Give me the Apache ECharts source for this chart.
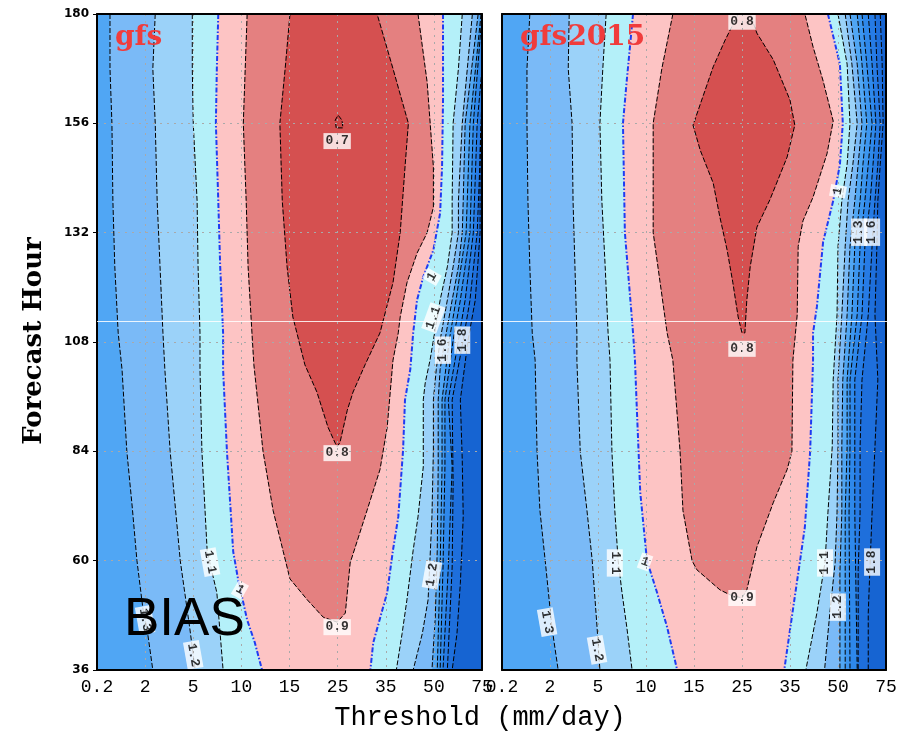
<!DOCTYPE html>
<html><head><meta charset="utf-8">
<script src="https://cdn.jsdelivr.net/npm/echarts@6/dist/echarts.min.js"></script>
<style>html,body{margin:0;padding:0;background:#fff}#chart{width:906px;height:734px}</style>
</head><body><div id="chart"></div>
<script>
// ---- axes ----
const thresholds = ['0.2','2','5','10','15','25','35','50','75'];
const hourTicks = [36,60,84,108,132,156,180];
const levels = [0.7,0.8,0.9,1.0,1.1,1.2,1.3,1.4,1.5,1.6,1.7,1.8];
// fill colour of the band just below each level, and above the top level
const bandBelow = {1.8:'#1e6fdc',1.7:'#267be5',1.6:'#2e88eb',1.5:'#3c96f0',1.4:'#50a6f4',1.3:'#7abaf7',1.2:'#9bd2f9',1.1:'#b4f0f9',1.0:'#fdc4c4',0.9:'#e48080',0.8:'#d55050',0.7:'#cc4646'};
const bandTop = '#1664d2';

// ---- contour lines, points are [threshold index, forecast hour] ----
// panel "gfs"
const gfsL13 = [[0.27,180],[0.27,168],[0.31,156],[0.33,139],[0.37,124.5],[0.44,110],[0.52,102],[0.62,84],[0.73,72],[0.83,60],[0.96,49],[1.04,45],[1.16,36]];
const gfsL12 = [[1.21,180],[1.16,168],[1.21,156],[1.25,139],[1.31,124.5],[1.37,110],[1.41,102],[1.52,84],[1.73,60],[1.93,45],[2.04,36]];
const gfsL11 = [[1.98,180],[1.98,168],[2.0,156],[2.08,139],[2.10,124.5],[2.14,110],[2.14,102],[2.18,84],[2.29,62],[2.49,53],[2.62,36]];
const gfsL10 = [[2.52,180],[2.49,168],[2.47,156],[2.52,139],[2.56,124.5],[2.62,110],[2.62,102],[2.70,84],[2.83,62],[2.93,56],[3.12,47],[3.28,42],[3.43,36]];
const gfsU09 = [[3.12,180],[3.08,168],[3.04,156],[3.10,139],[3.14,124.5],[3.22,110],[3.26,103],[3.45,84],[3.66,71],[3.87,62],[4.01,56],[4.37,51.4],[4.70,47.6],[4.99,46.5],[5.16,48.5],[5.26,59.5],[5.61,71],[5.88,80],[6.03,89.3],[6.15,104],[6.26,110],[6.30,113.5],[6.44,121],[6.65,127.5],[6.86,132],[6.99,137.6],[6.99,146.4],[6.86,165],[6.67,180]];
const gfsU08 = [[4.01,180],[3.91,168],[3.80,156],[3.85,139],[3.95,124.5],[4.07,113.5],[4.32,103],[4.57,97],[4.80,89.3],[4.95,85.8],[4.99,85],[5.05,86],[5.20,93],[5.32,97],[5.57,103],[5.88,110],[6.15,121],[6.30,132],[6.40,146.4],[6.47,156],[6.15,168],[5.82,180]];
const gfsC07 = [[4.97,155],[4.95,156.7],[5.01,157.8],[5.09,156.7],[5.11,155],[4.97,155]];
const gfsR10 = [[7.19,180],[7.19,161],[7.17,146.4],[7.13,136.3],[6.99,128.2],[6.78,122.3],[6.65,117.2],[6.57,110],[6.51,102],[6.40,95.3],[6.36,84.3],[6.26,69.6],[6.15,62.3],[6.03,53],[5.74,42],[5.68,36]];
const gfsR11 = [[7.59,180],[7.51,168],[7.40,156],[7.38,139],[7.38,132],[7.28,124.5],[7.13,117.2],[6.99,108.4],[6.92,104],[6.82,99],[6.78,95.3],[6.78,80.6],[6.67,69.6],[6.57,62.3],[6.44,51.4],[6.34,44],[6.22,36]];
const gfsR12 = [[7.80,180],[7.59,156],[7.51,139],[7.51,132],[7.40,124.5],[7.28,117.2],[7.13,108.4],[7.05,102],[6.99,95.3],[6.99,84.3],[6.96,69.6],[6.88,51.4],[6.76,44],[6.57,36]];
const gfsR13 = [[7.92,180],[7.65,156],[7.61,139],[7.59,132],[7.51,124.5],[7.38,117.2],[7.23,108.4],[7.13,102],[7.09,95.3],[7.09,80.6],[7.07,62.3],[7.03,47.6],[6.96,36]];
const gfsR14 = [[7.98,180],[7.75,156],[7.67,132],[7.46,117.2],[7.32,108.4],[7.17,95.3],[7.17,80.6],[7.13,58.6],[7.07,36]];
const gfsR15 = [[8,180],[7.82,156],[7.75,132],[7.55,117.2],[7.40,108.4],[7.23,95.3],[7.23,80.6],[7.19,58.6],[7.13,36]];
const gfsR16 = [[8,180],[8,168],[7.90,156],[7.82,132],[7.65,117.2],[7.51,108.4],[7.30,95.3],[7.38,80.6],[7.30,58.6],[7.19,36]];
const gfsR17 = [[8,180],[8,159],[7.96,148],[7.90,132],[7.75,117.2],[7.61,108.4],[7.38,95.3],[7.40,77],[7.38,58.6],[7.28,36]];
const gfsR18 = [[8,180],[8,162],[7.96,150],[7.96,132],[7.86,117.2],[7.71,108.4],[7.55,95.3],[7.59,82],[7.61,69.6],[7.55,55],[7.48,44],[7.38,36]];
const gfsLabels = [[4.99,152.1,'0.7',0],[4.99,83.6,'0.8',0],[4.99,45.4,'0.9',0],[6.96,122.3,'1',60],[6.99,113.3,'1.1',70],[7.19,106.2,'1.6',90],[7.59,108.4,'1.8',90],[2.35,59.7,'1.1',-80],[2.97,53.6,'1',-30],[1.0,47,'1.3',-80],[2.0,39.3,'1.2',-80],[6.96,56.9,'1.2',80]];

// panel "gfs2015"
const g15L13 = [[0.58,180],[0.52,168],[0.52,156],[0.54,139],[0.58,124.5],[0.63,110],[0.69,104],[0.73,84],[0.79,71],[0.90,60],[1.04,45.4],[1.17,36]];
const g15L12 = [[1.40,180],[1.38,168],[1.46,156],[1.48,139],[1.52,124.5],[1.56,110],[1.56,104],[1.63,84],[1.77,71],[1.88,60],[1.98,45.4],[2.04,36]];
const g15L11 = [[2.17,180],[2.10,168],[2.04,156],[2.08,139],[2.15,124.5],[2.21,110],[2.25,104],[2.29,84],[2.35,71],[2.42,60],[2.50,53],[2.60,45.4],[2.71,36]];
const g15L10 = [[2.73,180],[2.60,165.5],[2.52,156],[2.56,132],[2.73,110],[2.77,104],[2.81,93],[2.88,75],[3.02,60],[3.23,53],[3.44,45.4],[3.65,36]];
const g15U09 = [[3.56,180],[3.33,168],[3.15,156],[3.15,132],[3.44,110],[3.56,104],[3.71,84],[3.77,71],[3.96,60],[4.06,58],[4.54,53.6],[4.75,52.5],[5.0,51.8],[5.10,53.6],[5.31,63],[5.65,72.7],[5.94,80],[6.04,84],[6.06,104],[6.15,114],[6.17,129],[6.27,134.6],[6.48,139.8],[6.77,149.3],[6.90,156.5],[6.69,165.3],[6.48,172.8],[6.31,180]];
const g15U08 = [[4.92,180],[4.65,174.3],[4.40,168.4],[3.98,155.6],[4.13,150.1],[4.40,142.9],[4.54,135.4],[4.69,128.2],[4.81,121],[4.92,113.5],[5.0,110],[5.06,110],[5.10,117.2],[5.17,124.5],[5.31,133.2],[5.58,139.2],[5.94,148.6],[6.10,155.6],[6.0,161.1],[5.65,170],[5.31,175.8],[5.17,180]];
const g15R10 = [[6.79,180],[7.04,169],[7.10,156],[7.04,147],[6.90,139],[6.69,130],[6.56,115.7],[6.48,110],[6.48,104],[6.42,84],[6.31,67.4],[6.21,60],[6.06,49.2],[5.88,36]];
const g15R11 = [[7.0,180],[7.19,169],[7.25,156],[7.19,147],[7.08,139],[7.0,129],[6.98,114],[6.90,99.7],[6.88,85],[6.79,70.5],[6.73,59.7],[6.56,48.5],[6.33,36]];
const g15R12 = [[7.15,180],[7.29,169],[7.40,156],[7.31,147],[7.21,139],[7.15,129],[7.08,114],[7.0,99.7],[7.0,85],[6.98,70.5],[6.94,59.5],[6.83,48.5],[6.72,36]];
const g15R13 = [[7.25,180],[7.40,169],[7.50,156],[7.42,147],[7.35,139],[7.25,129],[7.19,114],[7.10,99.7],[7.08,85],[7.08,70.5],[7.04,57.5],[7.04,36]];
const g15R14 = [[7.40,180],[7.50,169],[7.60,156],[7.52,147],[7.46,139],[7.35,129],[7.29,114],[7.19,99.7],[7.19,85],[7.15,70.5],[7.15,36]];
const g15R15 = [[7.50,180],[7.60,169],[7.71,156],[7.63,147],[7.56,139],[7.46,129],[7.40,114],[7.25,99.7],[7.25,85],[7.23,70.5],[7.25,36]];
const g15R16 = [[7.63,180],[7.71,169],[7.79,156],[7.73,147],[7.67,139],[7.56,129],[7.50,114],[7.35,99.7],[7.35,85],[7.35,70.5],[7.40,36]];
const g15R17 = [[7.77,180],[7.81,169],[7.88,156],[7.83,147],[7.77,139],[7.71,129],[7.63,114],[7.50,99.7],[7.46,85],[7.46,70.5],[7.42,58],[7.42,36]];
const g15R18 = [[7.88,180],[7.92,169],[7.94,156],[7.88,147],[7.83,139],[7.81,129],[7.77,114],[7.83,99.7],[7.77,85],[7.71,70.5],[7.67,59.7],[7.63,48.5],[7.63,36]];
const g15Labels = [[5.0,178.3,'0.8',0],[5.0,106.5,'0.8',0],[5.0,51.8,'0.9',0],[7.0,141.1,'1',80],[7.44,132.1,'1.3',90],[7.71,132.1,'1.6',90],[2.35,59.5,'1.1',-90],[2.98,59.7,'1',-20],[6.73,59.5,'1.1',90],[7.0,49.8,'1.2',90],[7.71,59.7,'1.8',90],[0.94,46.5,'1.3',-80],[1.98,40.4,'1.2',-80]];

// ---- build ----
const H0 = 36, HSTEP = 24;
const toAxis = pts => pts.map(p => [p[0], (p[1] - H0) / HSTEP]);

const panels = [
  {title:'gfs', left:{1.3:gfsL13,1.2:gfsL12,1.1:gfsL11,1.0:gfsL10},
   right:{1.0:gfsR10,1.1:gfsR11,1.2:gfsR12,1.3:gfsR13,1.4:gfsR14,1.5:gfsR15,1.6:gfsR16,1.7:gfsR17,1.8:gfsR18},
   closed:{0.9:gfsU09,0.8:gfsU08,0.7:gfsC07}, labels:gfsLabels, gridLeft:97, gridWidth:385},
  {title:'gfs2015', left:{1.3:g15L13,1.2:g15L12,1.1:g15L11,1.0:g15L10},
   right:{1.0:g15R10,1.1:g15R11,1.2:g15R12,1.3:g15R13,1.4:g15R14,1.5:g15R15,1.6:g15R16,1.7:g15R17,1.8:g15R18},
   closed:{0.9:g15U09,0.8:g15U08}, labels:g15Labels, gridLeft:502, gridWidth:384}
];

const grids = [], xAxes = [], yAxes = [], series = [];
const dotted = {show:true, lineStyle:{color:'#a9a9a9', type:[2,5], width:1}};
const frame = {show:true, onZero:false, lineStyle:{color:'#000', width:2}};

panels.forEach((pn, gi) => {
  grids.push({left:pn.gridLeft, top:14, width:pn.gridWidth, height:656, show:true, backgroundColor:bandTop, borderWidth:0});
  xAxes.push({gridIndex:gi, type:'value', min:0, max:8, interval:1, position:'bottom', z:5,
    axisLine:frame, axisTick:{show:false},
    axisLabel:{formatter:v => thresholds[Math.round(v)], color:'#000', fontFamily:'Liberation Mono', fontSize:18, margin:8},
    splitLine:dotted});
  xAxes.push({gridIndex:gi, type:'value', min:0, max:8, interval:1, position:'top', z:5,
    axisLine:frame, axisTick:{show:false}, axisLabel:{show:false}, splitLine:{show:false}});
  yAxes.push({gridIndex:gi, type:'value', min:0, max:6, interval:1, position:'left', z:5,
    axisLine:frame, axisTick:{show:gi === 0, length:4, lineStyle:{color:'#000'}},
    axisLabel:{show:gi === 0, formatter:v => hourTicks[Math.round(v)], color:'#000', fontFamily:'DejaVu Sans', fontWeight:'bold', fontSize:12, margin:8},
    splitLine:dotted});
  yAxes.push({gridIndex:gi, type:'value', min:0, max:6, interval:1, position:'right', z:5,
    axisLine:frame, axisTick:{show:false}, axisLabel:{show:false}, splitLine:{show:false}});

  const xi = gi * 2, yi = gi * 2;
  // filled regions, painted from the highest level down
  const desc = levels.slice().reverse();
  desc.forEach((L, k) => {
    let poly = null;
    if (pn.closed[L]) poly = pn.closed[L];
    else if (pn.right[L]) {
      const lft = pn.left[L] ? pn.left[L] : [[0,180],[0,36]];
      poly = lft.concat(pn.right[L].slice().reverse());
    }
    if (!poly) return;
    const pts = toAxis(poly), col = bandBelow[L];
    series.push({type:'custom', xAxisIndex:xi, yAxisIndex:yi, clip:true, silent:true, z:1, data:[0],
      renderItem:(params, api) => ({type:'polygon', z2:k,
        shape:{points:pts.map(p => api.coord(p))}, style:{fill:col, stroke:col, lineWidth:0.6}})});
  });
  // contour lines
  const addLine = (pts, L) => {
    const blue = Math.abs(L - 1.0) < 1e-9;
    series.push({type:'line', xAxisIndex:xi, yAxisIndex:yi, data:toAxis(pts), showSymbol:false, symbol:'none',
      clip:true, silent:true, z:3,
      lineStyle: blue ? {color:'#1e3cf2', width:2, type:[5,2,1.5,2]} : {color:'#000', width:1, type:[5,2]}});
  };
  Object.keys(pn.left).forEach(L => addLine(pn.left[L], +L));
  Object.keys(pn.right).forEach(L => addLine(pn.right[L], +L));
  Object.keys(pn.closed).forEach(L => addLine(pn.closed[L], +L));
  // contour labels
  series.push({type:'scatter', xAxisIndex:xi, yAxisIndex:yi, symbolSize:1, itemStyle:{color:'rgba(0,0,0,0)'}, z:4, silent:true,
    data:pn.labels.map(l => ({value:[l[0], (l[1] - H0) / HSTEP], name:l[2], label:{rotate:l[3]}})),
    label:{show:true, position:'inside', formatter:'{b}', backgroundColor:'#fff', padding:[2,2,1,2],
      color:'#000', fontSize:13, fontFamily:'Liberation Mono', fontWeight:'bold'}});
});

const chart = echarts.init(document.getElementById('chart'), null, {renderer:'canvas'});
chart.setOption({
  animation:false,
  backgroundColor:'#fff',
  grid:grids, xAxis:xAxes, yAxis:yAxes, series:series,
  graphic:[
    {type:'text', left:115, top:24, z:50, style:{text:panels[0].title, font:'bold 28px "DejaVu Serif"', fill:'#f03c3c'}},
    {type:'text', left:520, top:24, z:50, style:{text:panels[1].title, font:'bold 28px "DejaVu Serif"', fill:'#f03c3c'}},
    {type:'text', x:34, y:341, rotation:Math.PI/2, z:50, style:{text:'Forecast Hour', font:'bold 26px "DejaVu Serif"', fill:'#000', textAlign:'center', textVerticalAlign:'middle'}},
    {type:'text', x:480, y:718, z:50, style:{text:'Threshold (mm/day)', font:'27px "Liberation Mono"', fill:'#000', textAlign:'center', textVerticalAlign:'middle'}},
    {type:'text', x:124, y:620, z:60, style:{text:'BIAS', font:'53px "Liberation Sans"', fill:'#000', textAlign:'left', textVerticalAlign:'middle'}},
    {type:'line', z:70, silent:true, shape:{x1:97, y1:321.5, x2:906, y2:321.5}, style:{stroke:'rgba(255,255,255,0.85)', lineWidth:1}}
  ]
});
</script></body></html>
